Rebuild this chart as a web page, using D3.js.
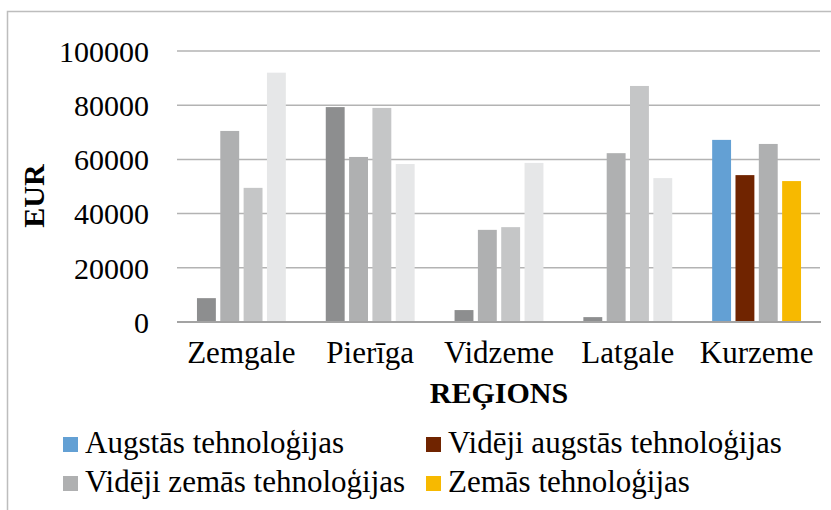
<html>
<head>
<meta charset="utf-8" />
<title>EUR by region</title>
<script src="https://d3js.org/d3.v7.min.js"></script>
<style>
  body { margin: 0; background: #fff; }
  text { font-family: "Liberation Serif", "Times New Roman", serif; fill: #000; }
</style>
</head>
<body>
<svg class="chart"></svg>
<script>
// categories and series
const regions = ["Zemgale", "Pierīga", "Vidzeme", "Latgale", "Kurzeme"];
const seriesNames = ["Augstās tehnoloģijas", "Vidēji augstās tehnoloģijas",
                     "Vidēji zemās tehnoloģijas", "Zemās tehnoloģijas"];
const augstas      = [8800, 79300, 4400, 1800, 67200];
const videjiAugst  = [70500, 60900, 34000, 62300, 54200];
const videjiZemas  = [49500, 79000, 35000, 87100, 65700];
const zemas        = [92000, 58300, 58700, 53100, 52000];
const yTicks = [0, 20000, 40000, 60000, 80000, 100000];

// legend colours, and the grey shades used for the first four regions
const legendColors = ["#63a0d4", "#702400", "#afb0b1", "#f7b900"];
const greyShades = ["#8d8e8f", "#afb0b1", "#c5c6c7", "#e6e7e8"];

const W = 831, H = 510;
const svg = d3.select("svg").attr("width", W).attr("height", H);

// outer border
svg.append("rect")
  .attr("x", 7.5).attr("y", 11.5).attr("width", W + 20).attr("height", H + 20)
  .attr("fill", "none").attr("stroke", "#bdbdbd").attr("stroke-width", 1.5);

const x0 = d3.scaleBand().domain(regions).range([177, 821]).paddingInner(0.31).paddingOuter(0.155);
const x1 = d3.scaleBand().domain(d3.range(4)).range([0, x0.bandwidth()]).paddingInner(0.19);
const y = d3.scaleLinear().domain([0, 100000]).range([322, 51]);

// gridlines
svg.append("g")
  .selectAll("line").data(yTicks.slice(1)).enter().append("line")
  .attr("x1", 177).attr("x2", 820)
  .attr("y1", d => y(d)).attr("y2", d => y(d))
  .attr("stroke", "#b3b3b3").attr("stroke-width", 1.5);

// y axis labels
const yAxis = d3.axisLeft(y).tickValues(yTicks).tickSize(0).tickPadding(0).tickFormat(d3.format("d"));
const ga = svg.append("g").attr("transform", "translate(149,0)").call(yAxis);
ga.select(".domain").remove();
ga.selectAll("text").attr("font-size", 30).attr("font-family", "Liberation Serif").attr("dy", "0.34em");

// bars
const allSeries = [augstas, videjiAugst, videjiZemas, zemas];
const rows = regions.map((r, i) => ({ region: r, i: i, values: allSeries.map(s => s[i]) }));
const groups = svg.append("g").selectAll("g").data(rows).enter().append("g")
  .attr("transform", d => `translate(${x0(d.region)},0)`);
groups.selectAll("rect")
  .data(d => d.values.map((v, k) => ({ v: v, k: k, last: d.i === regions.length - 1 })))
  .enter().append("rect")
  .attr("x", d => x1(d.k))
  .attr("width", x1.bandwidth())
  .attr("y", d => y(d.v))
  .attr("height", d => y(0) - y(d.v))
  .attr("fill", d => d.last ? legendColors[d.k] : greyShades[d.k]);

// x baseline
svg.append("line")
  .attr("x1", 177).attr("x2", 821).attr("y1", y(0)).attr("y2", y(0))
  .attr("stroke", "#a3a3a3").attr("stroke-width", 2);

// x axis labels
const xAxis = d3.axisBottom(x0).tickSize(0).tickPadding(0);
const gx = svg.append("g").attr("transform", "translate(0,363)").call(xAxis);
gx.select(".domain").remove();
gx.selectAll("text").attr("font-size", 31).attr("font-family", "Liberation Serif").attr("dy", 0);

// axis titles
svg.append("text").attr("x", 499).attr("y", 403).attr("text-anchor", "middle")
  .attr("font-size", 30).attr("font-weight", "bold").text("REĢIONS");
svg.append("text").attr("transform", "translate(44,196) rotate(-90)").attr("text-anchor", "middle")
  .attr("font-size", 30).attr("font-weight", "bold").text("EUR");

// legend
const legendPos = [[63, 453], [426, 453], [63, 492], [426, 492]];
const lg = svg.append("g").selectAll("g").data(seriesNames).enter().append("g")
  .attr("transform", (d, i) => `translate(${legendPos[i][0]},${legendPos[i][1]})`);
lg.append("rect").attr("x", 0).attr("y", -16).attr("width", 15).attr("height", 15)
  .attr("fill", (d, i) => legendColors[i]);
lg.append("text").attr("x", 22).attr("y", 0).attr("font-size", 31).text(d => d);
</script>
</body>
</html>
